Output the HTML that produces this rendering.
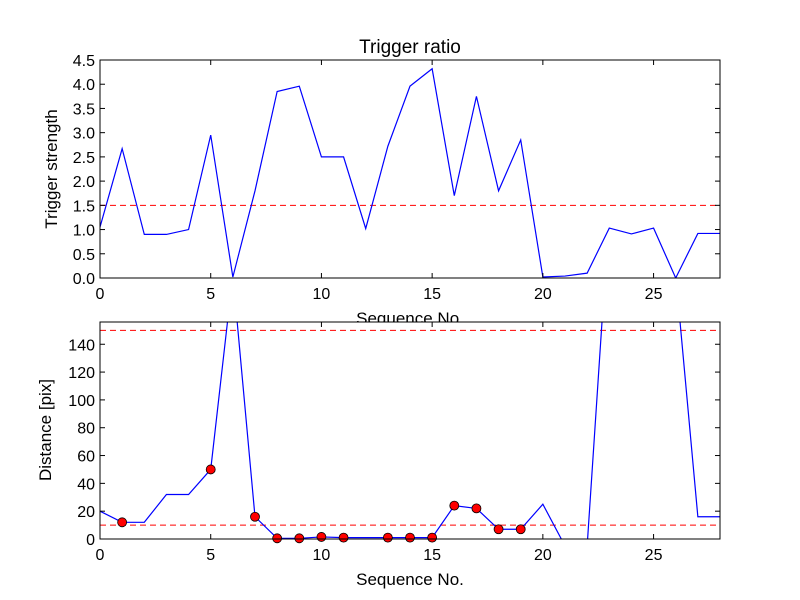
<!DOCTYPE html>
<html><head><meta charset="utf-8"><style>body{margin:0;background:#fff}svg{display:block;font-family:"Liberation Sans",sans-serif}</style></head>
<body>
<svg id="c" width="800" height="600"></svg>
<script>
const seq = [0,1,2,3,4,5,6,7,8,9,10,11,12,13,14,15,16,17,18,19,20,21,22,23,24,25,26,27,28];
const strength = [1.05,2.67,0.9,0.9,1.0,2.95,0.02,1.8,3.85,3.96,2.5,2.5,1.02,2.72,3.96,4.32,1.7,3.75,1.8,2.85,0.02,0.04,0.1,1.03,0.91,1.03,0.0,0.92,0.92];
const distance = [20,12,12,32,32,50,190,16,0.5,0.5,1.5,1,1,1,1,1,24,22,7,7,25,-5,-5,235,220,220,190,16,16];
const markerIdx = [1,5,7,8,9,10,11,13,14,15,16,17,18,19];
const strengthThreshold = [1.5];
const distanceThresholds = [10,150];
const xTicks = [0,5,10,15,20,25];
const yTicksTop = [0,0.5,1,1.5,2,2.5,3,3.5,4,4.5];
const yTicksBot = [0,20,40,60,80,100,120,140];

const NS="http://www.w3.org/2000/svg";
const svg=document.getElementById('c');
function mk(t,a,p){const e=document.createElementNS(NS,t);for(const k in a)e.setAttribute(k,a[k]);(p||svg).appendChild(e);return e;}
const L=100,R=720;
const X=v=>L+(v-0)/28*(R-L);
function panel(top,bot,ymin,ymax,yt,fmt,name){
  const Y=v=>bot-(v-ymin)/(ymax-ymin)*(bot-top);
  const g=mk('g',{});
  
  
  const bg=mk('rect',{x:L,y:top,width:R-L,height:bot-top,fill:'#fff'},g);
  
  
  const cid=name+'-clip';
  const cp=mk('clipPath',{id:cid},g);mk('rect',{x:L,y:top,width:R-L,height:bot-top},cp);
  const plot=mk('g',{'clip-path':'url(#'+cid+')'},g);
  xTicks.forEach(t=>{
    const x=X(t);
    mk('line',{x1:x,x2:x,y1:bot,y2:bot-5,stroke:'#000'},g);
    mk('line',{x1:x,x2:x,y1:top,y2:top+5,stroke:'#000'},g);
    const tx=mk('text',{x:x,y:bot+21,'text-anchor':'middle','font-size':16},g);tx.textContent=t;
    
    
  });
  yt.forEach(t=>{
    const y=Y(t);
    mk('line',{x1:L,x2:L+5,y1:y,y2:y,stroke:'#000'},g);
    mk('line',{x1:R,x2:R-5,y1:y,y2:y,stroke:'#000'},g);
    const tx=mk('text',{x:L-5,y:y+6,'text-anchor':'end','font-size':16},g);tx.textContent=fmt(t);
    
    
  });
  return {g,plot,Y};
}
const p1=panel(60,278,0,4.5,yTicksTop,t=>t.toFixed(1),'strength-panel');
strengthThreshold.forEach(v=>{const l=mk('line',{x1:L,x2:R,y1:p1.Y(v),y2:p1.Y(v),stroke:'#f00','stroke-dasharray':'6,4'},p1.plot);

});
const l1=mk('polyline',{points:seq.map((s,i)=>X(s)+','+p1.Y(strength[i])).join(' '),fill:'none',stroke:'#00f','stroke-width':1.2},p1.plot);


mk('rect',{x:L,y:60,width:R-L,height:218,fill:'none',stroke:'#000'},p1.g);
let t=mk('text',{x:410,y:53,'text-anchor':'middle','font-size':19});t.textContent='Trigger ratio';


t=mk('text',{x:410,y:324,'text-anchor':'middle','font-size':17});t.textContent='Sequence No.';


t=mk('text',{x:57,y:169,'text-anchor':'middle','font-size':17,transform:'rotate(-90 57 169)'});t.textContent='Trigger strength';


const p2=panel(322,539,0,156,yTicksBot,t=>t,'distance-panel');
distanceThresholds.forEach(v=>{const l=mk('line',{x1:L,x2:R,y1:p2.Y(v),y2:p2.Y(v),stroke:'#f00','stroke-dasharray':'6,4'},p2.plot);

});
const l2=mk('polyline',{points:seq.map((s,i)=>X(s)+','+p2.Y(distance[i])).join(' '),fill:'none',stroke:'#00f','stroke-width':1.2},p2.plot);


markerIdx.forEach(i=>{const c=mk('circle',{cx:X(seq[i]),cy:p2.Y(distance[i]),r:4.5,fill:'#f00',stroke:'#000','stroke-width':0.8},p2.g);

});
mk('rect',{x:L,y:322,width:R-L,height:217,fill:'none',stroke:'#000'},p2.g);
t=mk('text',{x:410,y:585,'text-anchor':'middle','font-size':17});t.textContent='Sequence No.';


t=mk('text',{x:51,y:430,'text-anchor':'middle','font-size':17,transform:'rotate(-90 51 430)'});t.textContent='Distance [pix]';


</script>
</body></html>
